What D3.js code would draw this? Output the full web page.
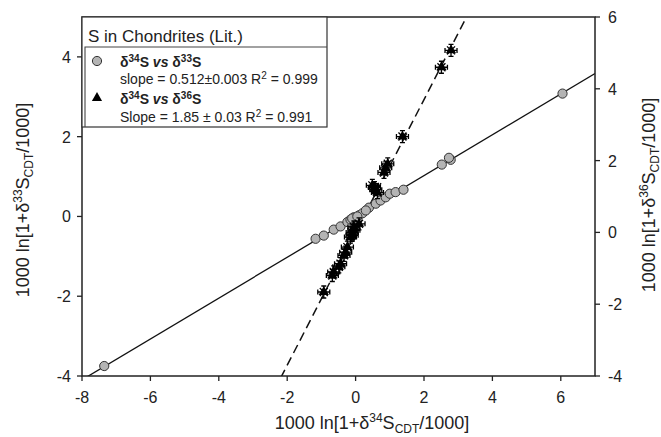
<!DOCTYPE html>
<html>
<head>
<meta charset="utf-8">
<script src="https://cdn.jsdelivr.net/npm/d3@7"></script>
<style>
  body { margin: 0; background: #fff; }
  text { font-family: "Liberation Sans", Arial, sans-serif; fill: #222; }
</style>
</head>
<body>
<div id="chart"></div>
<script>
// delta34 vs delta33 (left axis)
var s33Points = [
    [-7.35, -3.75], [6.05, 3.08], [2.52, 1.30], [2.78, 1.42], [2.73, 1.47],
    [-1.17, -0.56], [-0.93, -0.48], [-0.64, -0.33], [-0.44, -0.25], [-0.24, -0.14],
    [-0.15, -0.08], [-0.05, -0.02], [0.10, 0.03], [0.20, 0.08], [0.39, 0.22],
    [0.59, 0.32], [0.73, 0.40], [0.88, 0.48], [1.00, 0.57], [1.17, 0.61],
    [1.40, 0.67], [0.00, -0.03], [-0.10, -0.05], [0.05, 0.00], [0.30, 0.15]
];
// delta34 vs delta36 (right axis)
var s36Points = [
    [2.79, 5.07], [2.51, 4.60], [1.37, 2.67], [0.94, 1.91], [0.83, 1.67],
    [0.88, 1.80], [0.49, 1.31], [0.59, 1.19], [0.64, 1.11], [0.55, 1.25],
    [0.10, 0.24], [-0.05, 0.15], [-0.05, 0.06], [-0.10, 0.00], [-0.10, -0.08],
    [-0.15, -0.13], [-0.24, -0.41], [-0.29, -0.55], [-0.34, -0.64], [-0.44, -0.87],
    [-0.49, -0.96], [-0.64, -1.10], [-0.68, -1.20], [-0.93, -1.66]
];
var slope33 = 0.512;
var slope36 = 1.85;

var xTicks = [-8, -6, -4, -2, 0, 2, 4, 6];
var leftTicks = [-4, -2, 0, 2, 4];
var rightTicks = [-4, -2, 0, 2, 4, 6];

function init() {
    var w = 661;
    var h = 437;
    var left = 82, right = 595, top = 17, bottom = 376;

    var svg = d3.select("#chart")
            .append("svg")
            .attr("width", w)
            .attr("height", h);

    var x = d3.scaleLinear().domain([-8, 7]).range([left, right]);
    var yL = d3.scaleLinear().domain([-4, 5]).range([bottom, top]);
    var yR = d3.scaleLinear().domain([-4, 6]).range([bottom, top]);

    svg.append("clipPath").attr("id", "plotclip")
        .append("rect")
        .attr("x", left).attr("y", top)
        .attr("width", right - left).attr("height", bottom - top);

    var plot = svg.append("g").attr("clip-path", "url(#plotclip)");

    //regression lines
    var xs = x.domain();
    plot.append("path")
        .attr("d", d3.line().x(function(d) { return x(d); }).y(function(d) { return yL(d * slope33); })(xs))
        .attr("fill", "none").attr("stroke", "#111").attr("stroke-width", 1.3);

    plot.append("path")
        .attr("d", d3.line().x(function(d) { return x(d); }).y(function(d) { return yR(d * slope36); })(xs))
        .attr("fill", "none").attr("stroke", "#111").attr("stroke-width", 1.5)
        .attr("stroke-dasharray", "9,5");

    //circles
    plot.selectAll("circle.s33")
        .data(s33Points)
        .enter()
        .append("circle")
        .attr("class", "s33")
        .attr("cx", function(d) { return x(d[0]); })
        .attr("cy", function(d) { return yL(d[1]); })
        .attr("r", 4.6)
        .style("fill", "#b4b4b4")
        .style("stroke", "#333")
        .style("stroke-width", 1);

    //triangles with error crosses (star look)
    var tri = d3.symbol().type(d3.symbolTriangle).size(45);
    var g36 = plot.selectAll("g.s36")
        .data(s36Points)
        .enter()
        .append("g")
        .attr("class", "s36")
        .attr("transform", function(d) { return "translate(" + x(d[0]) + "," + yR(d[1]) + ")"; });
    g36.append("path")
        .attr("d", "M-6,0H6M0,-6V6M-6,-2.5V2.5M6,-2.5V2.5M-2.5,-6H2.5M-2.5,6H2.5M-4,-4L4,4M-4,4L4,-4")
        .attr("stroke", "#000").attr("stroke-width", 1.3).attr("fill", "none");
    g36.append("path").attr("d", tri).attr("fill", "#000");

    //frame
    svg.append("rect")
        .attr("x", left).attr("y", top)
        .attr("width", right - left).attr("height", bottom - top)
        .attr("fill", "none").attr("stroke", "#222").attr("stroke-width", 1.5);

    //ticks and labels
    var tl = 5;
    svg.selectAll("line.xt").data(xTicks).enter().append("line")
        .attr("x1", function(d) { return x(d); }).attr("x2", function(d) { return x(d); })
        .attr("y1", bottom).attr("y2", bottom + tl)
        .attr("stroke", "#222").attr("stroke-width", 1.3);
    svg.selectAll("text.xt").data(xTicks).enter().append("text")
        .attr("x", function(d) { return x(d); }).attr("y", 403)
        .attr("text-anchor", "middle").style("font-size", "16px")
        .text(function(d) { return d; });

    svg.selectAll("line.yl").data(leftTicks).enter().append("line")
        .attr("x1", left - tl).attr("x2", left)
        .attr("y1", function(d) { return yL(d); }).attr("y2", function(d) { return yL(d); })
        .attr("stroke", "#222").attr("stroke-width", 1.3);
    svg.selectAll("text.yl").data(leftTicks).enter().append("text")
        .attr("x", 71).attr("y", function(d) { return yL(d) + 6; })
        .attr("text-anchor", "end").style("font-size", "16px")
        .text(function(d) { return d; });

    svg.selectAll("line.yr").data(rightTicks).enter().append("line")
        .attr("x1", right).attr("x2", right + tl)
        .attr("y1", function(d) { return yR(d); }).attr("y2", function(d) { return yR(d); })
        .attr("stroke", "#222").attr("stroke-width", 1.3);
    svg.selectAll("text.yr").data(rightTicks).enter().append("text")
        .attr("x", 608).attr("y", function(d) { return yR(d) + 6; })
        .attr("text-anchor", "start").style("font-size", "16px")
        .text(function(d) { return d; });

    //axis titles
    function axisTitle(t, iso) {
        t.append("tspan").text("1000 ln[1+\u03b4");
        t.append("tspan").attr("dy", -7).style("font-size", "12px").text(iso);
        t.append("tspan").attr("dy", 7).text("S");
        t.append("tspan").attr("dy", 4).style("font-size", "12px").text("CDT");
        t.append("tspan").attr("dy", -4).text("/1000]");
    }
    axisTitle(svg.append("text").attr("x", 372).attr("y", 429)
        .attr("text-anchor", "middle").style("font-size", "18px"), "34");
    axisTitle(svg.append("text").attr("transform", "translate(29,200) rotate(-90)")
        .attr("text-anchor", "middle").style("font-size", "18px"), "33");
    axisTitle(svg.append("text").attr("transform", "translate(655,195) rotate(-90)")
        .attr("text-anchor", "middle").style("font-size", "18px"), "36");

    //legend
    var lg = svg.append("g");
    lg.append("rect").attr("x", left).attr("y", top).attr("width", 327 - left).attr("height", 127 - top)
        .attr("fill", "#fff").attr("stroke", "#333").attr("stroke-width", 1.2);
    lg.append("path").attr("d", "M85,127V47H327")
        .attr("fill", "none").attr("stroke", "#444").attr("stroke-width", 1.1);
    lg.append("text").attr("x", 88).attr("y", 42).style("font-size", "17px")
        .text("S in Chondrites (Lit.)");

    lg.append("circle").attr("cx", 97).attr("cy", 61).attr("r", 4.6)
        .style("fill", "#b4b4b4").style("stroke", "#333");
    lg.append("path").attr("d", tri).attr("transform", "translate(97,98)").attr("fill", "#000");

    function entryHead(y, iso) {
        var t = lg.append("text").attr("x", 120).attr("y", y)
            .style("font-size", "14px").style("font-weight", "bold");
        t.append("tspan").text("\u03b4");
        t.append("tspan").attr("dy", -5).style("font-size", "10px").text("34");
        t.append("tspan").attr("dy", 5).text("S ");
        t.append("tspan").style("font-style", "italic").text("vs");
        t.append("tspan").text(" \u03b4");
        t.append("tspan").attr("dy", -5).style("font-size", "10px").text(iso);
        t.append("tspan").attr("dy", 5).text("S");
    }
    function entryStat(y, a, b) {
        var t = lg.append("text").attr("x", 120).attr("y", y).style("font-size", "14px");
        t.append("tspan").text(a + " R");
        t.append("tspan").attr("dy", -5).style("font-size", "10px").text("2");
        t.append("tspan").attr("dy", 5).text(b);
    }
    entryHead(66.5, "33");
    entryStat(84, "slope = 0.512\u00b10.003", " = 0.999");
    entryHead(104, "36");
    entryStat(121.5, "Slope = 1.85 \u00b1 0.03", " = 0.991");
}

window.onload = init;
</script>
</body>
</html>
